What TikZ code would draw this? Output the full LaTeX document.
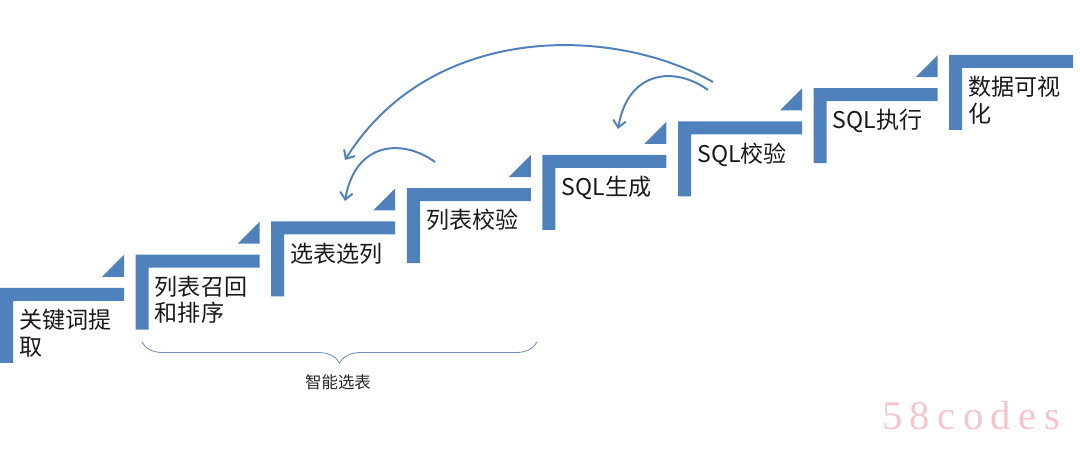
\documentclass[tikz,border=0pt]{standalone}
\usepackage{fontspec}
\newfontfamily\cjk{Noto Sans CJK SC}
\newfontfamily\wmfont[LetterSpace=18]{Liberation Serif}
\usepackage{tikz}
\usetikzlibrary{calc, arrows.meta, decorations.pathreplacing}
\definecolor{stairblue}{HTML}{4F81BD}
\definecolor{bracegray}{HTML}{6F8DB9}
\definecolor{wmpink}{HTML}{F4C6CA}

\begin{document}
\begin{tikzpicture}[x=0.025cm, y=0.025cm,
	stepbar/.style={fill=stairblue},
	steptext/.style={anchor=north west, inner sep=0pt, align=left, text=black!90, font=\cjk\fontsize{16.4}{18.8}\selectfont},
	backarrow/.style={draw=stairblue, line width=1.4pt, -{Straight Barb[length=5pt, width=9pt]}}]
	\def\bw{13}
	\def\tl{124}
	\def\rh{75}
	\useasboundingbox (0,0) rectangle (1080,452);

	% top left corner of each step
	\coordinate (s1) at (0,164);
	\coordinate (s2) at (135.6,197.3);
	\coordinate (s3) at (271.2,230.6);
	\coordinate (s4) at (406.8,263.9);
	\coordinate (s5) at (542.4,297.2);
	\coordinate (s6) at (678,330.5);
	\coordinate (s7) at (813.6,363.8);
	\coordinate (s8) at (949.2,397.1);

	\fill[stepbar] (s1) -- ++(\tl,0) -- ++(0,-\bw) -- ++(-\tl+\bw,0) -- ++(0,-\rh+\bw) -- ++(-\bw,0) -- cycle ($(s1)+(102,11)$) -- ++(22,0) -- ++(0,22) -- cycle;
	\fill[stepbar] (s2) -- ++(\tl,0) -- ++(0,-\bw) -- ++(-\tl+\bw,0) -- ++(0,-\rh+\bw) -- ++(-\bw,0) -- cycle ($(s2)+(102,11)$) -- ++(22,0) -- ++(0,22) -- cycle;
	\fill[stepbar] (s3) -- ++(\tl,0) -- ++(0,-\bw) -- ++(-\tl+\bw,0) -- ++(0,-\rh+\bw) -- ++(-\bw,0) -- cycle ($(s3)+(102,11)$) -- ++(22,0) -- ++(0,22) -- cycle;
	\fill[stepbar] (s4) -- ++(\tl,0) -- ++(0,-\bw) -- ++(-\tl+\bw,0) -- ++(0,-\rh+\bw) -- ++(-\bw,0) -- cycle ($(s4)+(102,11)$) -- ++(22,0) -- ++(0,22) -- cycle;
	\fill[stepbar] (s5) -- ++(\tl,0) -- ++(0,-\bw) -- ++(-\tl+\bw,0) -- ++(0,-\rh+\bw) -- ++(-\bw,0) -- cycle ($(s5)+(102,11)$) -- ++(22,0) -- ++(0,22) -- cycle;
	\fill[stepbar] (s6) -- ++(\tl,0) -- ++(0,-\bw) -- ++(-\tl+\bw,0) -- ++(0,-\rh+\bw) -- ++(-\bw,0) -- cycle ($(s6)+(102,11)$) -- ++(22,0) -- ++(0,22) -- cycle;
	\fill[stepbar] (s7) -- ++(\tl,0) -- ++(0,-\bw) -- ++(-\tl+\bw,0) -- ++(0,-\rh+\bw) -- ++(-\bw,0) -- cycle ($(s7)+(102,11)$) -- ++(22,0) -- ++(0,22) -- cycle;
	\fill[stepbar] (s8) -- ++(\tl,0) -- ++(0,-\bw) -- ++(-\tl+\bw,0) -- ++(0,-\rh+\bw) -- ++(-\bw,0) -- cycle;

	\node[steptext] (keyword) at ($(s1)+(19,-21)$) {关键词提\\取};
	\node[steptext] (recall) at ($(s2)+(19,-21)$) {列表召回\\和排序};
	\node[steptext] (select) at ($(s3)+(19,-21)$) {选表选列};
	\node[steptext] (listcheck) at ($(s4)+(19,-21)$) {列表校验};
	\node[steptext] (sqlgen) at ($(s5)+(19,-21)$) {SQL生成};
	\node[steptext] (sqlcheck) at ($(s6)+(19,-21)$) {SQL校验};
	\node[steptext] (sqlrun) at ($(s7)+(19,-21)$) {SQL执行};
	\node[steptext] (visual) at ($(s8)+(19,-21)$) {数据可视\\化};

	% loops back
	\coordinate (bigfrom) at (713,370);
	\coordinate (bigto) at (345,292);
	\coordinate (genfrom) at (708,362);
	\coordinate (gento) at (618,323);
	\coordinate (selfrom) at (435,290);
	\coordinate (selto) at (345,251);
	\draw[backarrow] (bigfrom) .. controls (610,428) and (430,428) .. (bigto);
	\draw[backarrow] (genfrom) .. controls (675,386) and (628,382) .. (gento);
	\draw[backarrow] (selfrom) .. controls (402,314) and (355,310) .. (selto);

	\coordinate (bl) at (142,110);
	\coordinate (br) at (537,110);
	\draw[bracegray, line width=0.6pt, decorate, decoration={brace, mirror, amplitude=15pt}] (bl) -- (br);
	\node[font=\cjk\fontsize{11.7}{14}\selectfont, text=black!85] (smart) at (338,70) {智能选表};

	\node[anchor=base west, inner sep=0pt, text=wmpink, font=\wmfont\fontsize{29}{29}\selectfont] (mark) at (882,22) {58codes};
\end{tikzpicture}
\end{document}
